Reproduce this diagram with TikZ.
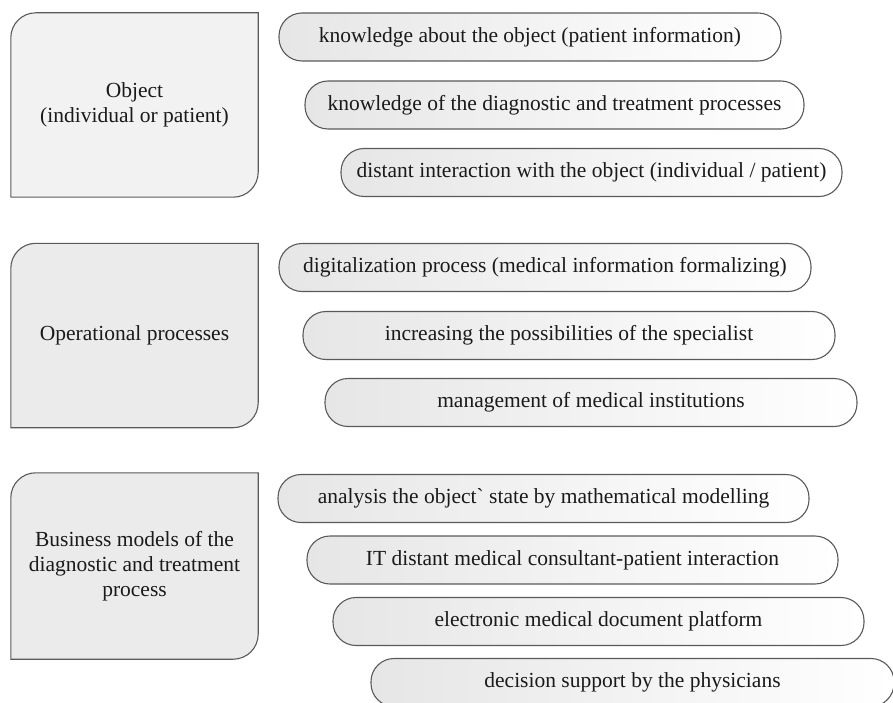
\documentclass[tikz,border=0pt]{standalone}
\usepackage{fontspec}
\setmainfont{Liberation Serif}
\usetikzlibrary{backgrounds}
\definecolor{edge}{HTML}{5A5A5A}
\definecolor{boxA}{HTML}{F2F2F2}
\definecolor{boxB}{HTML}{EBEBEB}
\definecolor{pillL}{HTML}{E6E6E6}
\definecolor{ink}{HTML}{1A1A1A}
\tikzset{
  x=1pt,y=1pt,
  bigtext/.style={inner sep=0pt, minimum width=247pt, minimum height=184pt, align=center, text=ink, font=\fontsize{21.5}{25}\selectfont},
  bigshape/.style={draw=edge, line width=1.1pt},
  pill/.style={draw=edge, line width=1.1pt, rounded corners=23pt, left color=pillL, right color=white, inner sep=0pt, minimum height=48pt, text=ink, font=\fontsize{21.5}{25}\selectfont},
}
\newcommand{\bigbox}[2]{% name, fill
  \begin{pgfonlayer}{background}
  \path[bigshape, fill=#2] (#1.south west) -- ([yshift=-25pt]#1.north west)
    arc[start angle=180, end angle=90, radius=25pt] -- (#1.north east)
    -- ([yshift=25pt]#1.south east) arc[start angle=0, end angle=-90, radius=25pt] -- cycle;
  \end{pgfonlayer}}
\begin{document}
\begin{tikzpicture}
\useasboundingbox (0,0) rectangle (893,-703);
% big boxes
\node[bigtext] (b1) at (134.5,-105) {Object\\(individual or patient)};
\bigbox{b1}{boxA}
\node[bigtext] (b2) at (134.5,-335.5) {Operational processes};
\bigbox{b2}{boxB}
\node[bigtext, minimum height=186pt] (b3) at (134.5,-566) {Business models of the\\diagnostic and treatment\\process};
\bigbox{b3}{boxB}
% pills group 1
\node[pill, minimum width=502pt] (p1) at (530,-37) {knowledge about the object (patient information)};
\node[pill, minimum width=499pt] (p2) at (554.5,-105) {knowledge of the diagnostic and treatment processes};
\node[pill, minimum width=501pt] (p3) at (591.5,-172.5) {distant interaction with the object (individual / patient)};
% pills group 2
\node[pill, minimum width=532pt] (p4) at (545,-267.5) {digitalization process (medical information formalizing)};
\node[pill, minimum width=532pt] (p5) at (569,-335.5) {increasing the possibilities of the specialist};
\node[pill, minimum width=532pt] (p6) at (591,-402.5) {management of medical institutions};
% pills group 3
\node[pill, minimum width=531pt] (p7) at (543.5,-498.5) {analysis the object\textasciigrave{} state by mathematical modelling};
\node[pill, minimum width=531pt] (p8) at (572.5,-560) {IT distant medical consultant-patient interaction};
\node[pill, minimum width=531pt] (p9) at (598.5,-621.5) {electronic medical document platform};
\node[pill, minimum width=523pt] (p10) at (632.5,-682.5) {decision support by the physicians};
\end{tikzpicture}
\end{document}
